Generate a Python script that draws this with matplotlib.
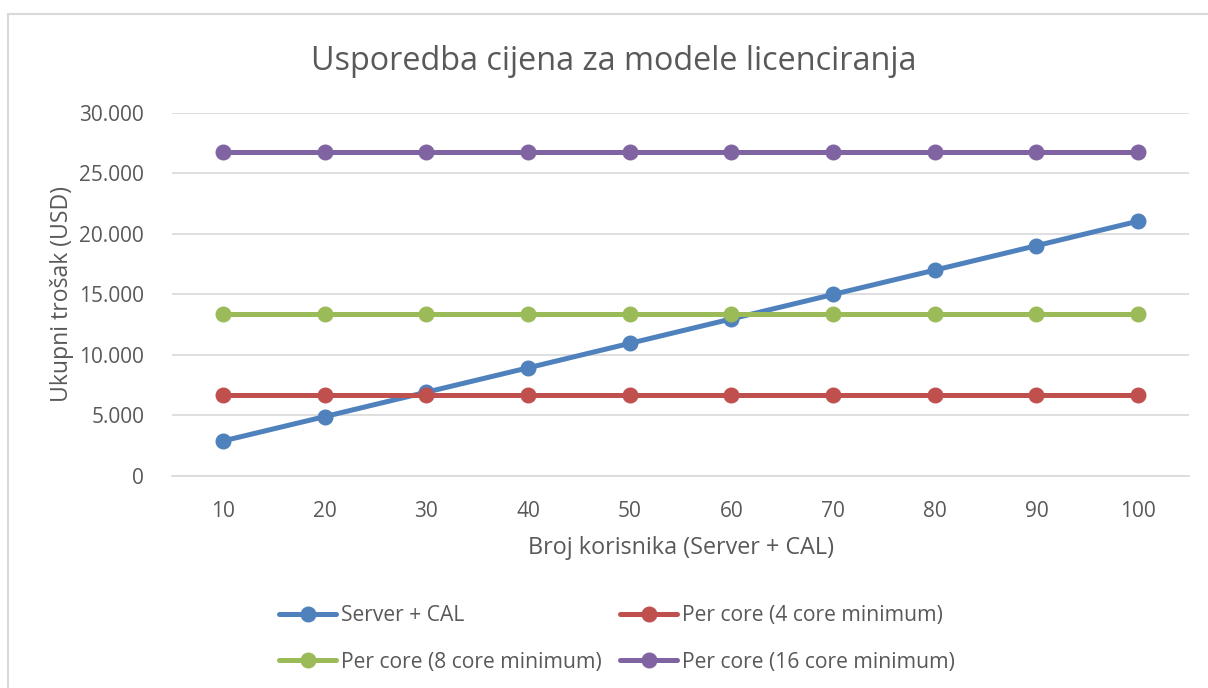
import matplotlib.pyplot as plt
from matplotlib.patches import Rectangle
from matplotlib.ticker import FuncFormatter

# podaci ocitani s grafa
korisnici = [10, 20, 30, 40, 50, 60, 70, 80, 90, 100]
server_cal = [2890, 4900, 6920, 8930, 10950, 12970, 14990, 17000, 19020, 21040]
core_4 = [6690] * 10
core_8 = [13380] * 10
core_16 = [26780] * 10

series_names = ['Server + CAL', 'Per core (4 core minimum)',
                'Per core (8 core minimum)', 'Per core (16 core minimum)']
y_ticks = [0, 5000, 10000, 15000, 20000, 25000, 30000]

colors = ['#4F81BD', '#C0504D', '#9BBB59', '#8064A2']
txt = '#595959'
grid_c = '#D9D9D9'

plt.rcParams['font.family'] = ['Open Sans', 'DejaVu Sans']

fig = plt.figure(figsize=(12.08, 6.88), dpi=100)
fig.patches.append(Rectangle((8 / 1208, -0.1), 1.2, 1 - 14 / 688 + 0.1,
                             transform=fig.transFigure, fill=False,
                             edgecolor=grid_c, linewidth=1.5))

ax = fig.add_axes([172 / 1208, 1 - 476 / 688, (1189 - 172) / 1208, (476 - 112.7) / 688])

handles = []
for vals, name, c in zip([server_cal, core_4, core_8, core_16], series_names, colors):
    h, = ax.plot(korisnici, vals, color=c, linewidth=3.6, marker='o',
                 markersize=10.5, label=name, solid_capstyle='round')
    handles.append(h)

ax.set_xlim(5, 105)
ax.set_ylim(0, 30000)
ax.set_xticks(korisnici)
ax.set_yticks(y_ticks)
ax.yaxis.set_major_formatter(FuncFormatter(lambda v, p: f'{int(v):,}'.replace(',', '.')))

ax.grid(axis='y', color=grid_c, linewidth=1.2)
ax.set_axisbelow(True)
for s in ['top', 'right', 'left']:
    ax.spines[s].set_visible(False)
ax.spines['bottom'].set_color(grid_c)
ax.spines['bottom'].set_linewidth(1.2)
ax.tick_params(length=0, labelsize=15, labelcolor=txt)
ax.tick_params(axis='x', pad=18)
ax.tick_params(axis='y', pad=20)

ax.set_xlabel('Broj korisnika (Server + CAL)', fontsize=16.8, color=txt, labelpad=10)
ax.set_ylabel('Ukupni trošak (USD)', fontsize=16.6, color=txt, labelpad=4)

fig.text(614 / 1208, 1 - 61 / 688, 'Usporedba cijena za modele licenciranja',
         fontsize=23.3, color=txt, ha='center', va='center')

# redoslijed kao u Excelu (po redovima)
order = [0, 2, 1, 3]
fig.legend([handles[i] for i in order], [series_names[i] for i in order],
           ncol=2, loc='center', bbox_to_anchor=(617 / 1208, 1 - 639 / 688),
           frameon=False, fontsize=15.2, labelcolor=txt, handlelength=2.7,
           handletextpad=0.2, columnspacing=0.9, labelspacing=1.2)

fig.savefig('out.png', dpi=100)
